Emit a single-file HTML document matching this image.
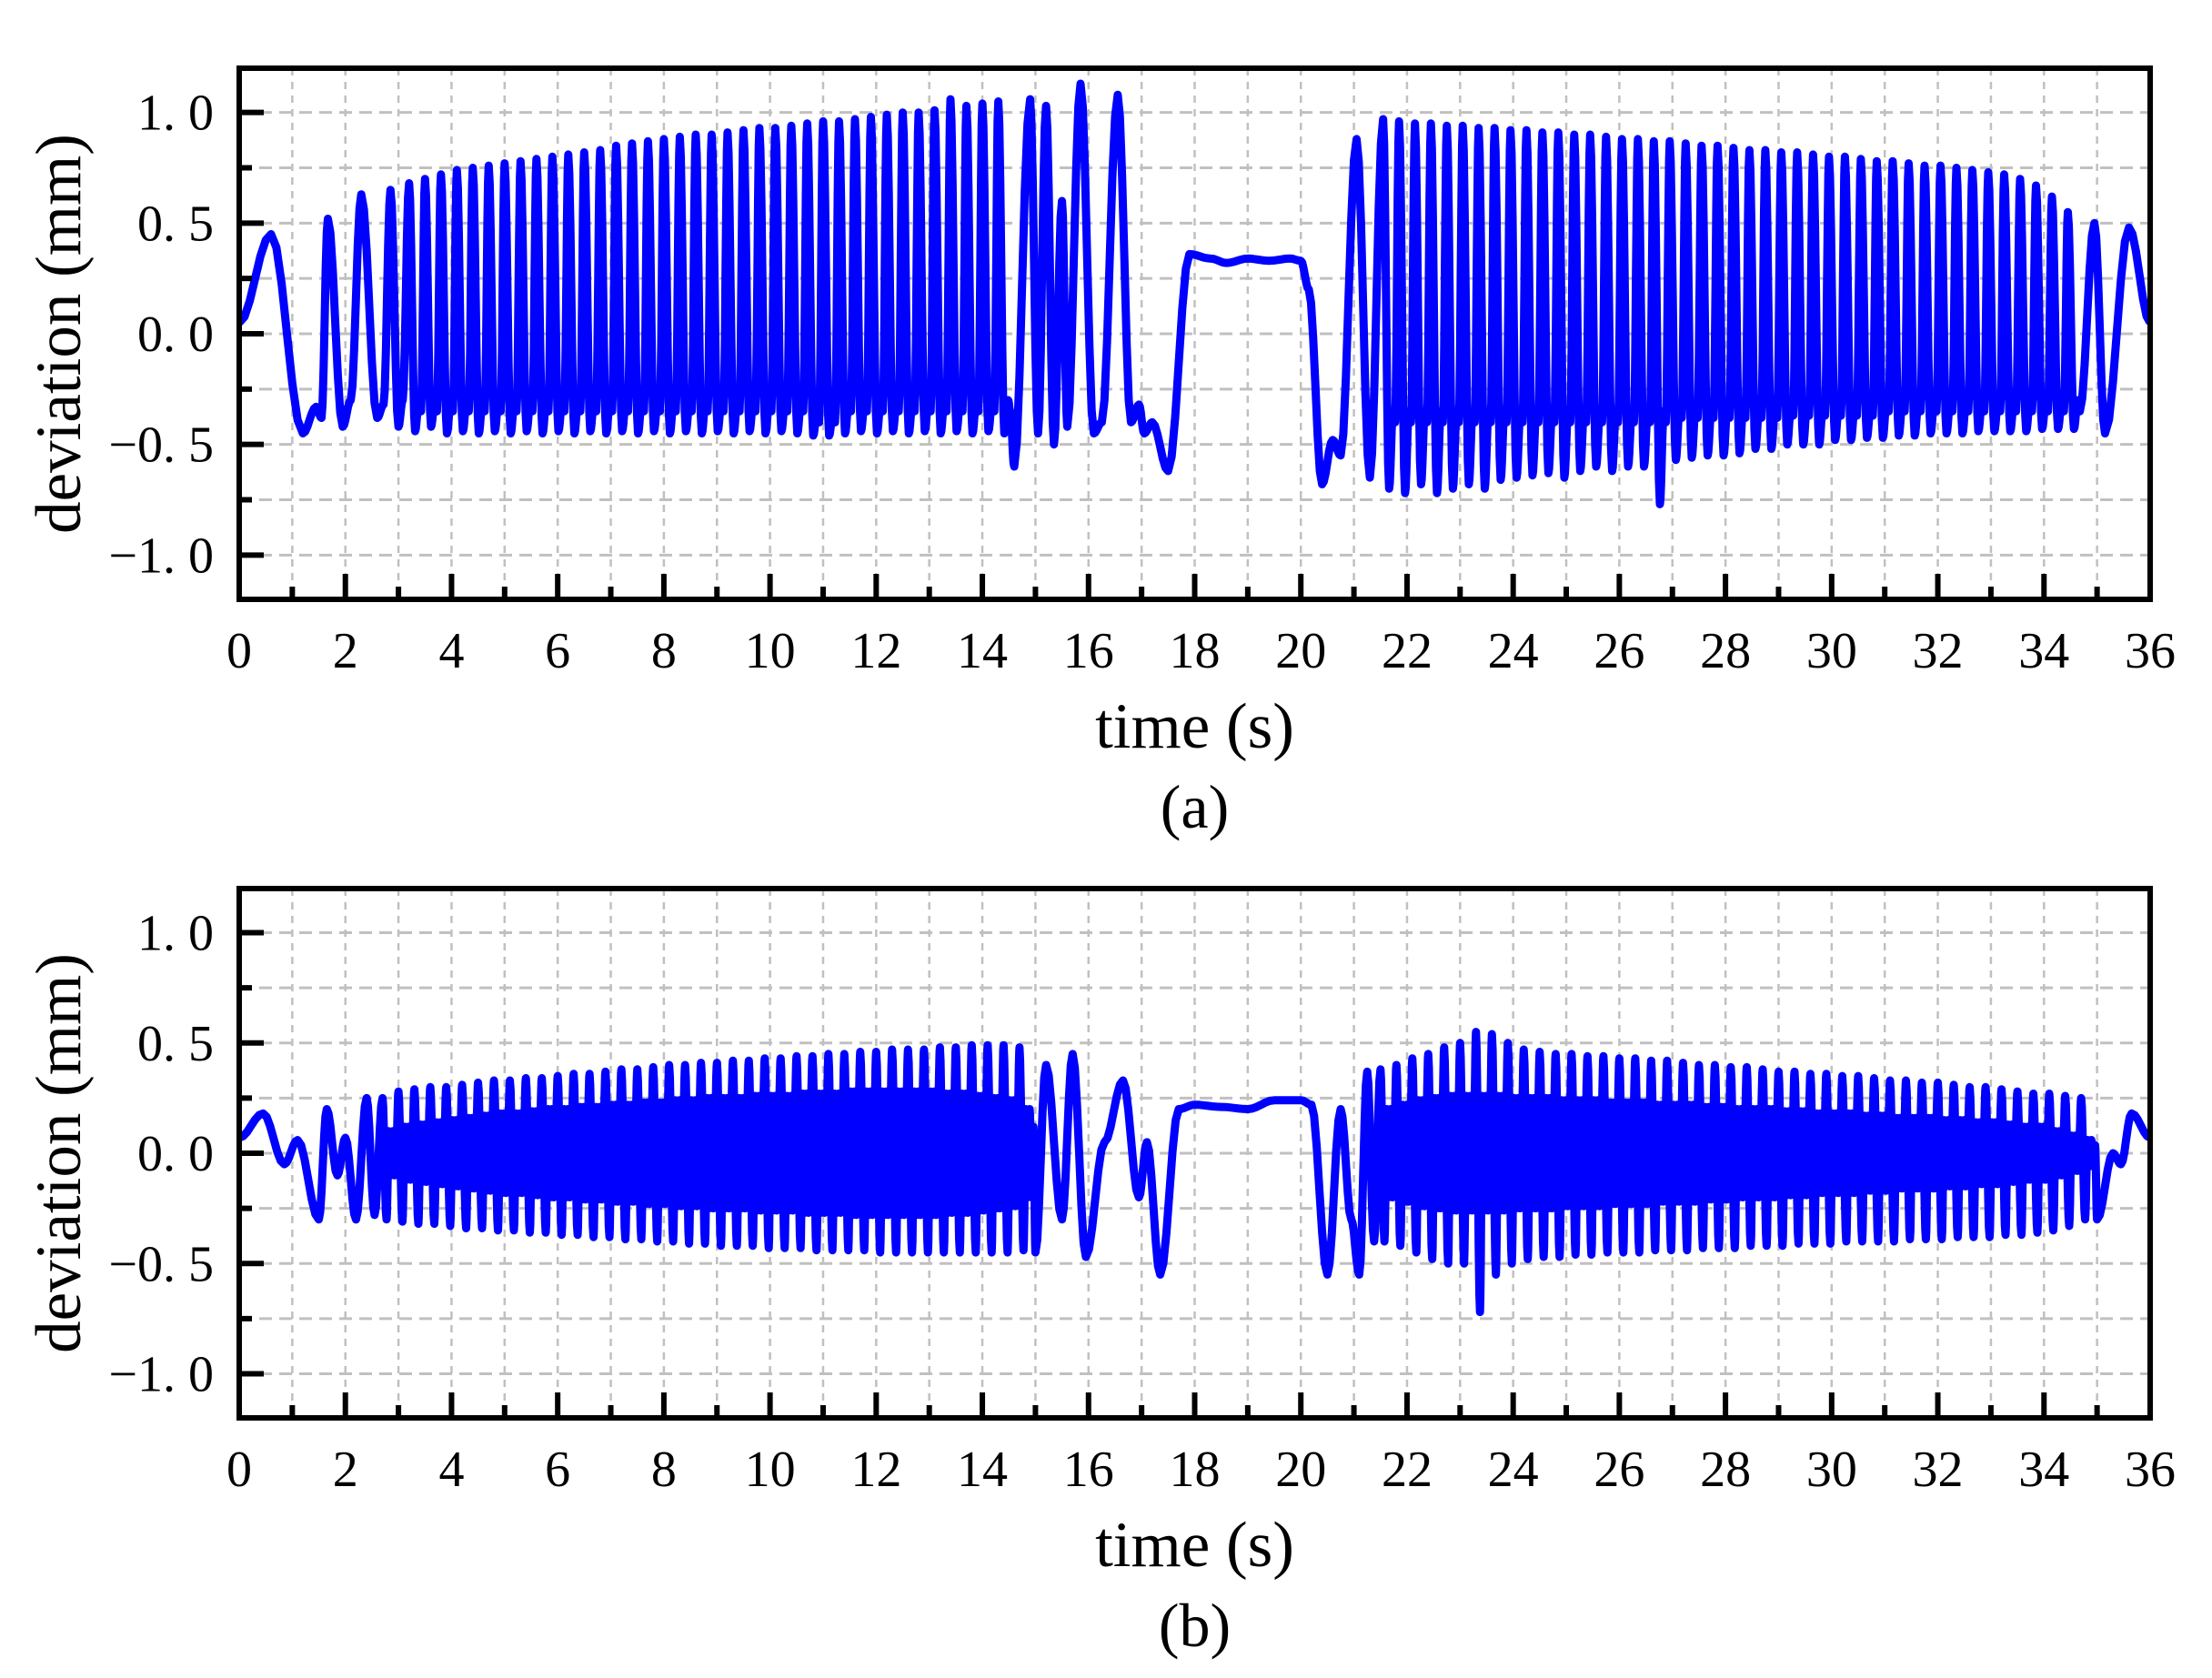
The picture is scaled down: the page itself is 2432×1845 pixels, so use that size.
<!DOCTYPE html>
<html><head><meta charset="utf-8">
<style>
html,body{margin:0;padding:0;background:#fff;}
svg{display:block;}
text{font-family:"Liberation Serif","Noto Serif CJK SC",serif;fill:#000;}
</style></head>
<body>
<svg id="fig" width="2432" height="1845" viewBox="0 0 2432 1845" xmlns="http://www.w3.org/2000/svg">
<defs>
<clipPath id="clipA"><rect x="263" y="75" width="2101" height="584"/></clipPath>
<clipPath id="clipB"><rect x="263" y="977" width="2101" height="582"/></clipPath>
</defs>
<g id="panelA"></g>
<g id="panelB"></g>
</svg>
<script>
// ---------- data ----------
const xTicks = [0,2,4,6,8,10,12,14,16,18,20,22,24,26,28,30,32,34,36];
const yTicks = [1.0,0.5,0.0,-0.5,-1.0];
const yTickLabels = ["1. 0","0. 5","0. 0","\u22120. 5","\u22121. 0"];

// panel (a): explicit extremes [time, value]
const aStart = [[0,0.05],[0.6,0.45],[1.2,-0.45],[1.45,-0.33],[1.55,-0.38],[1.67,0.52],[1.95,-0.42],[2.1,-0.3],[2.3,0.63],[2.6,-0.38],[2.72,-0.32],[2.85,0.65],[3.0,-0.42],[3.08,-0.3]];
// cycles [peakTime, peak, trough, shoulder]
const aCycles1 = [[3.2,0.68,-0.44,-0.3],[3.5,0.7,-0.42,-0.3],[3.8,0.72,-0.45,-0.3],[4.1,0.74,-0.44,-0.3],[4.4,0.75,-0.45,-0.3],[4.7,0.76,-0.44,-0.3],[5.0,0.77,-0.45,-0.3],[5.3,0.78,-0.44,-0.3],[5.6,0.79,-0.45,-0.3],[5.9,0.8,-0.44,-0.3],[6.2,0.81,-0.45,-0.3],[6.5,0.82,-0.44,-0.3],[6.8,0.83,-0.45,-0.3],[7.1,0.85,-0.44,-0.3],[7.4,0.86,-0.45,-0.3],[7.7,0.87,-0.44,-0.3],[8.0,0.88,-0.45,-0.3],[8.3,0.89,-0.44,-0.3],[8.6,0.9,-0.45,-0.3],[8.9,0.9,-0.44,-0.3],[9.2,0.91,-0.45,-0.3],[9.5,0.92,-0.44,-0.3],[9.8,0.93,-0.45,-0.3],[10.1,0.93,-0.44,-0.3],[10.4,0.94,-0.45,-0.3],[10.7,0.95,-0.46,-0.35],[11.0,0.96,-0.46,-0.35],[11.3,0.96,-0.45,-0.3],[11.6,0.97,-0.44,-0.3],[11.9,0.98,-0.45,-0.3],[12.2,0.99,-0.44,-0.3],[12.5,1.0,-0.45,-0.3],[12.8,1.0,-0.44,-0.3],[13.1,1.01,-0.45,-0.3],[13.4,1.06,-0.44,-0.3],[13.7,1.03,-0.45,-0.3],[14.0,1.04,-0.44,-0.3],[14.3,1.05,-0.45,-0.3]];
const aMid = [[14.6,-0.6],[14.9,1.06],[15.05,-0.45],[15.2,1.03],[15.35,-0.5],[15.5,0.6],[15.6,-0.42],[15.85,1.13],[16.1,-0.45],[16.25,-0.4],[16.55,1.08],[16.8,-0.4],[16.95,-0.32],[17.05,-0.45],[17.2,-0.4],[17.5,-0.62],[17.9,0.36],[18.3,0.34],[18.6,0.32],[19.0,0.34],[19.4,0.33],[19.8,0.34],[20.0,0.33],[20.15,0.2],[20.4,-0.68],[20.6,-0.48],[20.75,-0.55],[21.05,0.88],[21.3,-0.65]];
const aCycles2 = [[21.55,0.97,-0.7,-0.35],[21.85,0.96,-0.72,-0.35],[22.15,0.95,-0.68,-0.35],[22.45,0.95,-0.72,-0.35],[22.75,0.94,-0.7,-0.35],[23.05,0.94,-0.68,-0.35],[23.35,0.93,-0.7,-0.35],[23.65,0.93,-0.66,-0.35],[23.95,0.92,-0.65,-0.35],[24.25,0.92,-0.64,-0.35],[24.55,0.91,-0.63,-0.35],[24.85,0.91,-0.65,-0.35],[25.15,0.9,-0.62,-0.35],[25.45,0.9,-0.6,-0.35],[25.75,0.89,-0.62,-0.35],[26.05,0.88,-0.6,-0.35],[26.35,0.88,-0.6,-0.35],[26.65,0.87,-0.77,-0.35],[26.95,0.87,-0.57,-0.33],[27.25,0.86,-0.56,-0.33],[27.55,0.85,-0.55,-0.33],[27.85,0.85,-0.55,-0.33],[28.15,0.84,-0.54,-0.33],[28.45,0.83,-0.52,-0.33],[28.75,0.83,-0.52,-0.33],[29.05,0.82,-0.5,-0.32],[29.35,0.82,-0.5,-0.32],[29.65,0.81,-0.5,-0.32],[29.95,0.8,-0.48,-0.32],[30.25,0.8,-0.48,-0.32],[30.55,0.79,-0.47,-0.32],[30.85,0.78,-0.47,-0.3],[31.15,0.78,-0.46,-0.3],[31.45,0.77,-0.46,-0.3],[31.75,0.76,-0.45,-0.3],[32.05,0.76,-0.45,-0.3],[32.35,0.75,-0.45,-0.3],[32.65,0.74,-0.44,-0.3],[32.95,0.73,-0.44,-0.3],[33.25,0.72,-0.44,-0.3],[33.55,0.7,-0.44,-0.3],[33.85,0.67,-0.43,-0.3],[34.15,0.62,-0.43,-0.3],[34.45,0.55,-0.43,-0.3]];
const aEnd = [[34.95,0.5],[35.15,-0.45],[35.6,0.48],[36,0.05]];

// panel (b)
const bStart = [[0,0.07],[0.45,0.18],[0.85,-0.05],[1.1,0.06],[1.5,-0.3],[1.65,0.2],[1.85,-0.1],[2.0,0.07],[2.2,-0.3],[2.4,0.25],[2.55,-0.28]];
// cycles [peakTime, peak, trough, innerAmplitude]
const bCycles1 = [[2.7,0.25,-0.3,0.1],[3.0,0.28,-0.31,0.12],[3.3,0.29,-0.32,0.13],[3.6,0.3,-0.32,0.14],[3.9,0.3,-0.33,0.15],[4.2,0.31,-0.34,0.16],[4.5,0.32,-0.34,0.17],[4.8,0.33,-0.35,0.18],[5.1,0.33,-0.35,0.18],[5.4,0.34,-0.36,0.19],[5.7,0.34,-0.36,0.2],[6.0,0.35,-0.37,0.2],[6.3,0.36,-0.37,0.21],[6.6,0.36,-0.38,0.21],[6.9,0.37,-0.38,0.22],[7.2,0.38,-0.39,0.22],[7.5,0.38,-0.39,0.23],[7.8,0.39,-0.4,0.23],[8.1,0.4,-0.4,0.24],[8.4,0.4,-0.41,0.24],[8.7,0.41,-0.41,0.25],[9.0,0.41,-0.42,0.25],[9.3,0.42,-0.42,0.25],[9.6,0.42,-0.42,0.26],[9.9,0.43,-0.43,0.26],[10.2,0.43,-0.43,0.26],[10.5,0.44,-0.43,0.27],[10.8,0.44,-0.44,0.27],[11.1,0.45,-0.44,0.27],[11.4,0.45,-0.44,0.28],[11.7,0.46,-0.44,0.28],[12.0,0.46,-0.45,0.28],[12.3,0.47,-0.45,0.28],[12.6,0.47,-0.45,0.28],[12.9,0.47,-0.45,0.28],[13.2,0.48,-0.45,0.27],[13.5,0.48,-0.45,0.27],[13.8,0.49,-0.45,0.26],[14.1,0.49,-0.45,0.25],[14.4,0.49,-0.45,0.24],[14.7,0.48,-0.44,0.2]];
const bMid = [[15.0,-0.45],[15.2,0.4],[15.5,-0.3],[15.7,0.45],[15.95,-0.47],[16.3,0.05],[16.65,0.33],[16.95,-0.2],[17.1,0.05],[17.35,-0.55],[17.7,0.2],[18.0,0.22],[18.5,0.21],[19.0,0.2],[19.5,0.24],[20.0,0.24],[20.2,0.22],[20.5,-0.55],[20.75,0.2],[20.95,-0.3],[21.1,-0.55],[21.25,0.37],[21.38,-0.4]];
const bCycles2 = [[21.5,0.38,-0.4,0.2],[21.8,0.4,-0.42,0.22],[22.1,0.43,-0.45,0.24],[22.4,0.45,-0.48,0.25],[22.7,0.48,-0.5,0.26],[23.0,0.5,-0.5,0.26],[23.3,0.55,-0.72,0.26],[23.6,0.54,-0.55,0.26],[23.9,0.5,-0.5,0.25],[24.2,0.47,-0.48,0.25],[24.5,0.46,-0.47,0.25],[24.8,0.45,-0.47,0.24],[25.1,0.45,-0.46,0.24],[25.4,0.44,-0.46,0.24],[25.7,0.44,-0.45,0.23],[26.0,0.43,-0.45,0.23],[26.3,0.43,-0.45,0.23],[26.6,0.42,-0.44,0.22],[26.9,0.42,-0.44,0.22],[27.2,0.41,-0.44,0.22],[27.5,0.4,-0.43,0.21],[27.8,0.4,-0.43,0.21],[28.1,0.39,-0.43,0.2],[28.4,0.39,-0.42,0.2],[28.7,0.38,-0.42,0.2],[29.0,0.37,-0.42,0.19],[29.3,0.37,-0.41,0.19],[29.6,0.36,-0.41,0.18],[29.9,0.36,-0.41,0.18],[30.2,0.35,-0.4,0.18],[30.5,0.35,-0.4,0.17],[30.8,0.34,-0.4,0.17],[31.1,0.33,-0.4,0.16],[31.4,0.33,-0.39,0.16],[31.7,0.32,-0.39,0.16],[32.0,0.32,-0.39,0.15],[32.3,0.31,-0.38,0.15],[32.6,0.3,-0.38,0.14],[32.9,0.3,-0.38,0.14],[33.2,0.29,-0.37,0.13],[33.5,0.28,-0.37,0.12],[33.8,0.27,-0.36,0.12],[34.1,0.27,-0.35,0.1],[34.4,0.26,-0.33,0.08],[34.7,0.25,-0.3,0.06]];
const bEnd = [[35.0,-0.3],[35.3,0.0],[35.45,-0.05],[35.65,0.18],[36,0.07]];

// ---------- layout ----------
const NS = "http://www.w3.org/2000/svg";
const X0 = 263, X1 = 2364, XMIN = 0, XMAX = 36;
function xScale(t){ return X0 + (t - XMIN) / (XMAX - XMIN) * (X1 - X0); }
function makeY(top, bottom){ return v => top + (1.2 - v) / 2.4 * (bottom - top); }
function el(tag, attrs, parent){
  const e = document.createElementNS(NS, tag);
  for (const k in attrs) e.setAttribute(k, attrs[k]);
  parent.appendChild(e); return e;
}

function expandA(start, c1, mid, c2, end){
  const pts = start.slice();
  function addCycles(c){
    for (let i = 0; i < c.length; i++){
      const s = (i < c.length - 1) ? c[i+1][0] - c[i][0] : 0.3;
      const [t, p, tr, sh] = c[i];
      pts.push([t, p]); pts.push([t + 0.38*s, tr]); pts.push([t + 0.62*s, sh]); pts.push([t + 0.75*s, sh - 0.05]);
    }
  }
  addCycles(c1); mid.forEach(p => pts.push(p)); addCycles(c2); end.forEach(p => pts.push(p));
  return pts;
}
function expandB(start, c1, mid, c2, end){
  const pts = start.slice();
  function addCycles(c){
    for (let i = 0; i < c.length; i++){
      const s = (i < c.length - 1) ? c[i+1][0] - c[i][0] : 0.3;
      const [t, p, tr, inn] = c[i];
      pts.push([t, p]); pts.push([t + 0.25*s, tr]);
      pts.push([t + 0.4*s, inn]); pts.push([t + 0.52*s, -inn]);
      pts.push([t + 0.64*s, inn]); pts.push([t + 0.76*s, -inn]);
      pts.push([t + 0.88*s, inn*0.6]);
    }
  }
  addCycles(c1); mid.forEach(p => pts.push(p)); addCycles(c2); end.forEach(p => pts.push(p));
  return pts;
}
function pathFrom(pts, yS){
  let d = "M" + xScale(pts[0][0]).toFixed(1) + "," + yS(pts[0][1]).toFixed(1);
  for (let i = 1; i < pts.length; i++){
    const [t0, v0] = pts[i-1], [t1, v1] = pts[i];
    const n = 6;
    for (let k = 1; k <= n; k++){
      const f = k / n, c = (1 - Math.cos(Math.PI * f)) / 2;
      d += "L" + xScale(t0 + (t1 - t0) * f).toFixed(1) + "," + yS(v0 + (v1 - v0) * c).toFixed(1);
    }
  }
  return d;
}

function drawPanel(g, top, bottom, clipId, pts, opt){
  const yS = makeY(top, bottom);
  for (let t = 1; t < 36; t++){
    const gl = el("line", {x1:xScale(t), x2:xScale(t), y1:top, y2:bottom, stroke:"#c0c0c0", "stroke-width":2.5, "stroke-dasharray":"8,7"}, g);
    
    
  }
  for (let v = -1.0; v <= 1.01; v += 0.25){
    const gl = el("line", {x1:X0, x2:X1, y1:yS(v), y2:yS(v), stroke:"#c0c0c0", "stroke-width":3, "stroke-dasharray":"14,8"}, g);
    
    
  }
  const line = el("path", {d:pathFrom(pts, yS), fill:"none", stroke:"#0000ff", "stroke-width":9, "stroke-linejoin":"round", "clip-path":"url(#"+clipId+")"}, g);
  
  
  for (let t = 1; t < 36; t++){
    const major = t % 2 === 0;
    const tk = el("line", {x1:xScale(t), x2:xScale(t), y1:bottom, y2:bottom - (major ? 28 : 14), stroke:"#000", "stroke-width":6}, g);
    
    
  }
  for (let v = -1.0; v <= 1.01; v += 0.25){
    const major = Math.abs(v*2 - Math.round(v*2)) < 1e-6;
    const tk = el("line", {x1:X0, x2:X0 + (major ? 27 : 14), y1:yS(v), y2:yS(v), stroke:"#000", "stroke-width":6}, g);
    
    
  }
  const fr = el("rect", {x:X0, y:top, width:X1 - X0, height:bottom - top, fill:"none", stroke:"#000", "stroke-width":6}, g);
  
  
  xTicks.forEach(t => {
    const tx = el("text", {x:xScale(t), y:bottom + 75, "font-size":56, "text-anchor":"middle"}, g);
    tx.textContent = String(t);
    
    
  });
  yTicks.forEach((v, i) => {
    const tx = el("text", {x:235, y:yS(v) + 19, "font-size":56, "text-anchor":"end"}, g);
    tx.textContent = yTickLabels[i];
    
    
  });
  const cy = (top + bottom) / 2;
  const yl = el("text", {x:0, y:0, "font-size":71, "text-anchor":"middle", transform:"translate(88," + cy + ") rotate(-90)"}, g);
  yl.textContent = "deviation (mm)";
  
  
  const xl = el("text", {x:(X0 + X1)/2, y:bottom + 163, "font-size":71, "text-anchor":"middle"}, g);
  xl.textContent = "time (s)";
  
  
  const cap = el("text", {x:(X0 + X1)/2, y:bottom + 251, "font-size":68, "text-anchor":"middle"}, g);
  cap.textContent = opt.caption;
  
  
}

drawPanel(document.getElementById("panelA"), 75, 659, "clipA", expandA(aStart, aCycles1, aMid, aCycles2, aEnd), {caption:"(a)"});
drawPanel(document.getElementById("panelB"), 977, 1559, "clipB", expandB(bStart, bCycles1, bMid, bCycles2, bEnd), {caption:"(b)"});
</script>
</body></html>
